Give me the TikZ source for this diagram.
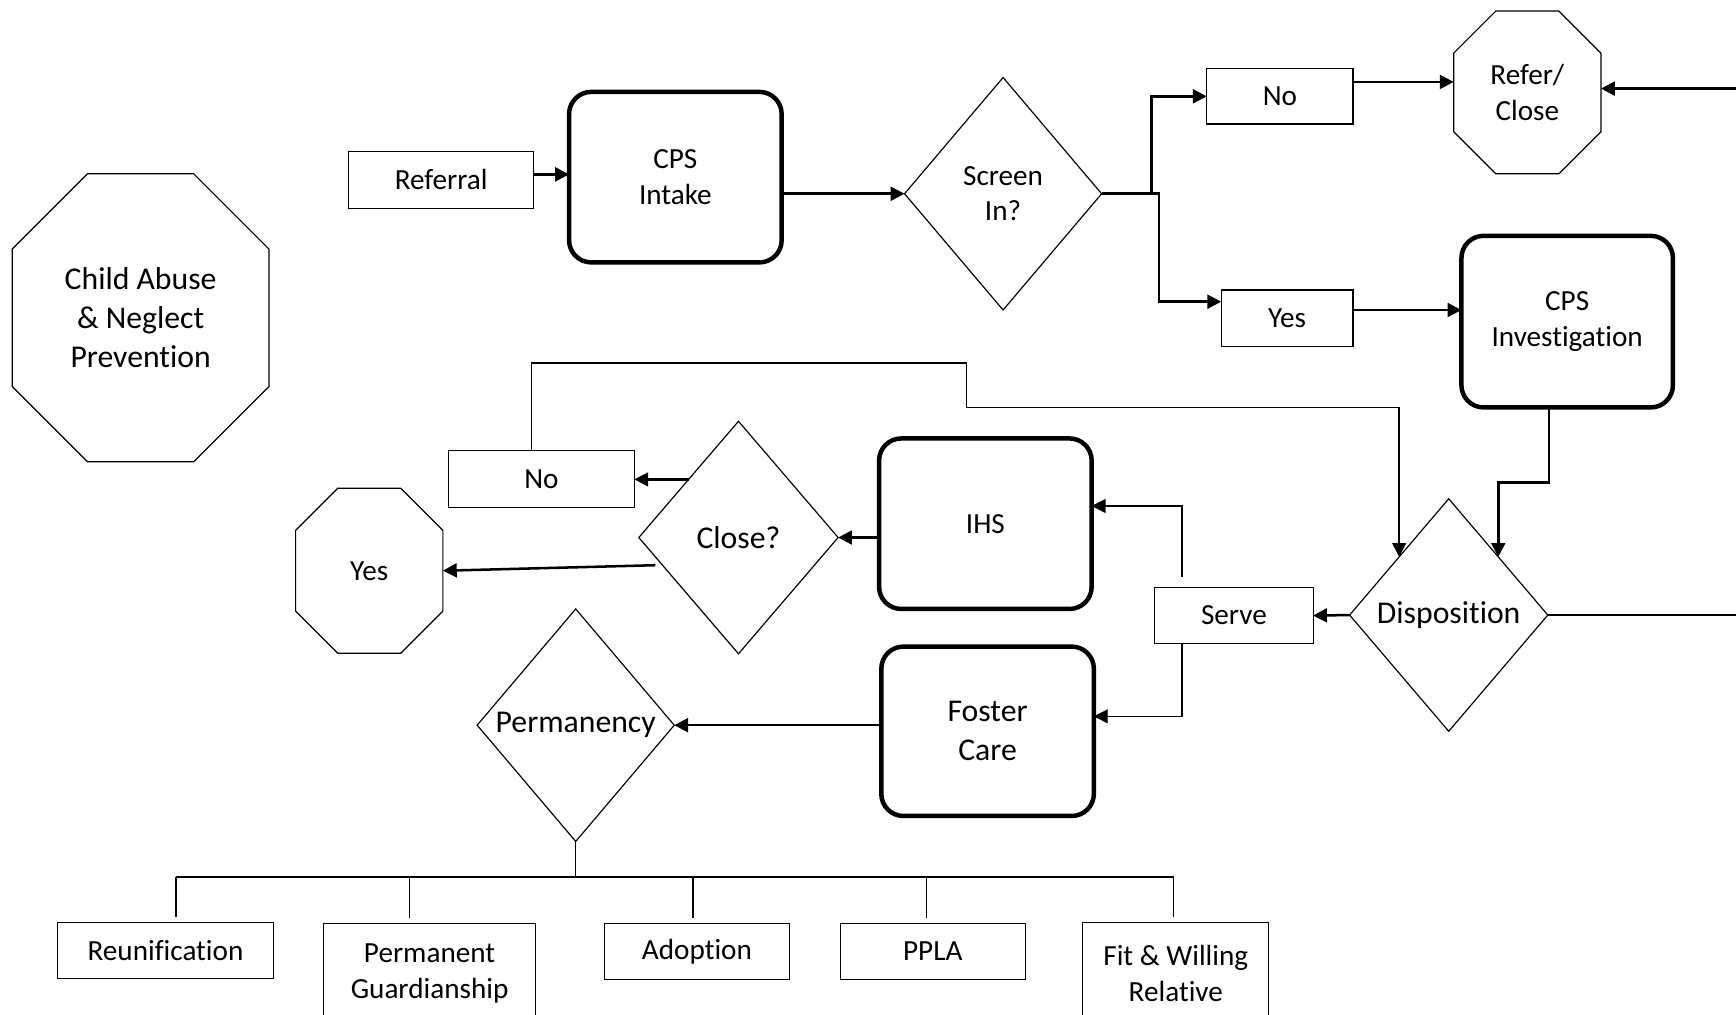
\documentclass[tikz,border=0pt]{standalone}
\usepackage{fontspec}
\setmainfont{Carlito}[Ligatures={NoCommon,NoContextual},Contextuals=NoAlternate]
\usetikzlibrary{shapes,arrows.meta}

\newcommand{\ftsmall}{\fontsize{15pt}{18.3pt}\selectfont}
\newcommand{\ftlarge}{\fontsize{16.3pt}{19.9pt}\selectfont}
\newcommand{\drawoct}[2]{%
\draw[line width=0.6pt] ([xshift=#2]#1.north west) -- ([xshift=-#2]#1.north east) -- ([yshift=-#2]#1.north east) -- ([yshift=#2]#1.south east) -- ([xshift=-#2]#1.south east) -- ([xshift=#2]#1.south west) -- ([yshift=#2]#1.south west) -- ([yshift=-#2]#1.north west) -- cycle;}

\begin{document}
\begin{tikzpicture}[
  >={Triangle[length=0.25cm,width=0.25cm]},
  every node/.style={outer sep=0pt, inner sep=1pt, align=center},
  box/.style={draw, line width=0.6pt, font=\ftsmall, minimum height=1.02cm},
  task/.style={draw, rounded corners=0.4cm, line width=2.3pt, font=\ftsmall, minimum width=3.84cm, minimum height=3.08cm},
  ask/.style={draw, diamond, line width=0.6pt, inner sep=0pt, font=\ftsmall, minimum width=3.58cm, minimum height=4.2cm},
  stop/.style={font=\ftsmall},
  arr/.style={->, line width=1.3pt},
  lnk/.style={line width=0.7pt}]
\useasboundingbox (0,0) rectangle (31.36,-18.32);

\node[stop, minimum width=4.64cm, minimum height=5.2cm, font=\ftlarge] (prev) at (2.54,-5.74) {Child Abuse\\\& Neglect\\Prevention};
\drawoct{prev}{1.36cm}
\node[box, minimum width=3.34cm] (refl) at (7.97,-3.25) {Referral};
\node[task] (intake) at (12.2,-3.2) {CPS\\Intake};
\node[ask, minimum width=3.56cm] (screen) at (18.12,-3.5) {Screen\\In?};
\node[box, minimum width=2.64cm, minimum height=1.0cm] (noA) at (23.12,-1.74) {No};
\node[stop, minimum width=2.66cm, minimum height=2.94cm] (refer) at (27.59,-1.67) {Refer/\\Close};
\drawoct{refer}{0.76cm}
\node[box, minimum width=2.38cm] (yesA) at (23.25,-5.75) {Yes};
\node[task, minimum width=3.82cm, minimum height=3.1cm] (invest) at (28.31,-5.81) {CPS\\Investigation};
%============
\node[ask, font=\ftlarge] (dispo) at (26.17,-11.11) {Disposition};
\node[box, minimum width=2.86cm, minimum height=1.0cm] (serve) at (22.29,-11.12) {Serve};
\node[task] (ihs) at (17.8,-9.46) {IHS};
\node[task, minimum height=3.06cm, font=\ftlarge] (foster) at (17.84,-13.21) {Foster\\Care};
\node[ask, minimum width=3.6cm, font=\ftlarge] (closeq) at (13.34,-9.71) {Close?};
\node[box, minimum width=3.36cm] (noB) at (9.78,-8.65) {No};
\node[stop, minimum width=2.66cm, minimum height=2.98cm] (yesB) at (6.67,-10.31) {Yes};
\drawoct{yesB}{0.76cm}
\node[ask, minimum width=3.56cm, font=\ftlarge] (perm) at (10.4,-13.1) {Permanency};
%============
\node[box, minimum width=3.9cm] (reun) at (2.99,-17.17) {Reunification};
\node[box, minimum width=3.84cm, minimum height=1.82cm] (guard) at (7.76,-17.59) {Permanent\\Guardianship};
\node[box, minimum width=3.34cm] (adopt) at (12.59,-17.19) {Adoption};
\node[box, minimum width=3.34cm] (ppla) at (16.85,-17.19) {PPLA};
\node[box, minimum width=3.36cm, minimum height=1.84cm] (relat) at (21.24,-17.58) {Fit \& Willing\\Relative};
%============
\coordinate (edgeA) at (31.36,-1.6);
\coordinate (edgeB) at (31.36,-11.11);
\coordinate (jog) at (17.46,-7.36);

\draw[arr] ([yshift=0.1cm]refl.east) -- ([yshift=0.1cm]refl.east -| intake.west);
\draw[arr] (intake.east |- screen.west) -- (screen.west);
\draw[arr] (screen.east) -- ++(0.9,0) |- (noA.west);
\draw[arr] (screen.east) -- ++(1.04,0) |- ([yshift=0.3cm]yesA.west);
\draw[arr] ([yshift=0.26cm]noA.east) -- ([yshift=0.26cm]noA.east -| refer.west);
\draw[arr] (edgeA) -- (edgeA -| refer.east);
\draw[arr] ([yshift=0.15cm]yesA.east) -- ([yshift=0.15cm]yesA.east -| invest.west);
\draw[arr] ([xshift=-0.33cm]invest.south) -- ++(0,-1.36) -| (dispo.north east);
\draw[arr, lnk] ([xshift=-0.18cm]noB.north) -- ++(0,1.58) -| (jog) -| (dispo.north west);

\draw[lnk] (dispo.east) -- (edgeB);
\draw[arr] (dispo.west) -- (serve.east);
\draw[arr, lnk] ([xshift=-0.94cm,yshift=0.2cm]serve.north) |- ([yshift=0.32cm]ihs.east);
\draw[arr, lnk] ([xshift=-0.94cm]serve.south) |- ([yshift=0.27cm]foster.east);
\draw[arr] (ihs.west |- closeq.east) -- (closeq.east);
\draw[arr] (closeq.north west) -- (closeq.north west -| noB.east);
\draw[arr] ([xshift=0.3cm,yshift=-0.5cm]closeq.west) -- (yesB.east);
\draw[arr] (foster.west |- perm.east) -- (perm.east);

% permanency outcomes
\draw[lnk] (perm.south) -- ++(0,-0.64) coordinate (bar);
\draw[lnk] ([xshift=0.19cm]reun.north |- bar) -- ([xshift=-0.04cm]relat.north |- bar);
\foreach \b/\dx in {reun/0.19, guard/-0.36, adopt/-0.07, ppla/-0.11, relat/-0.04}
  \draw[lnk] ([xshift=\dx cm]\b.north |- bar) -- ([xshift=\dx cm, yshift=0.1cm]\b.north);
\end{tikzpicture}
\end{document}
